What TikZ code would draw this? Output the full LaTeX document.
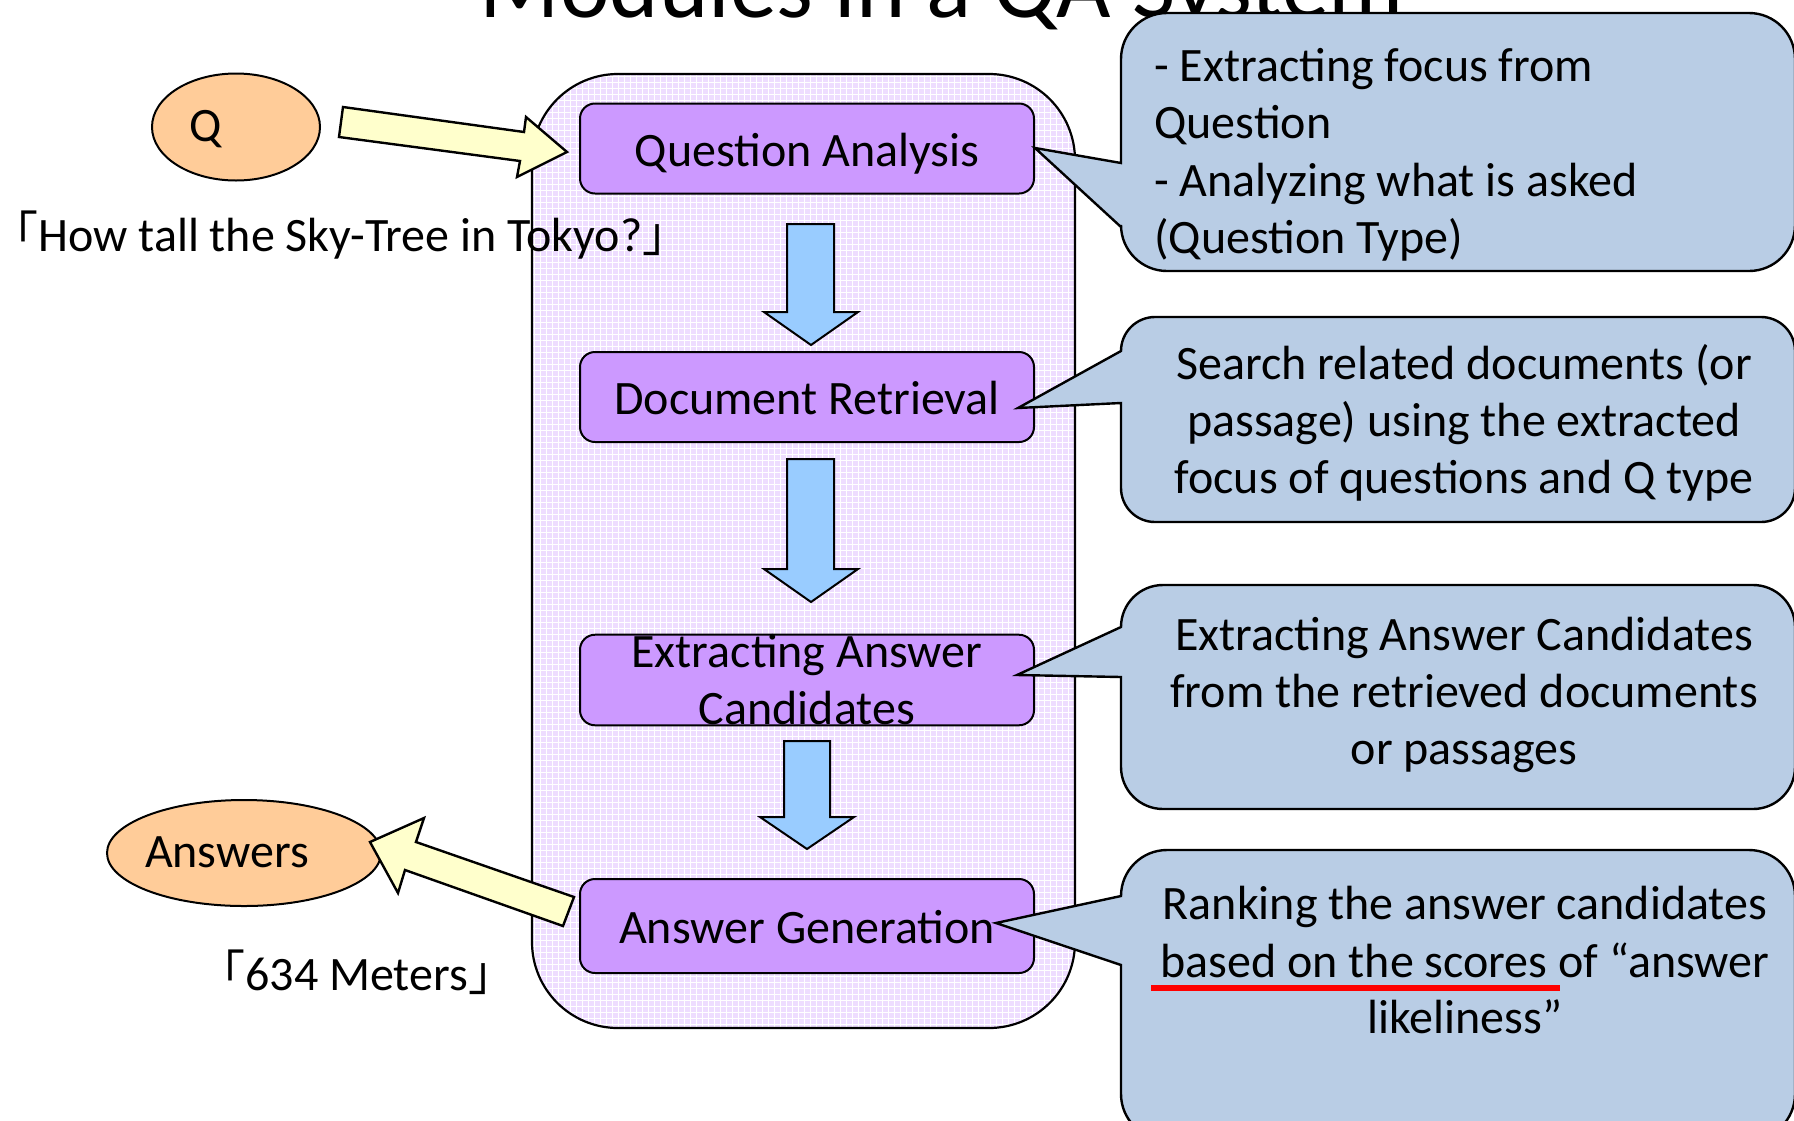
\documentclass[tikz,border=0pt]{standalone}
\usepackage{fontspec}
\setmainfont{Carlito}
\newfontfamily\cjkfont{Noto Sans CJK JP}
\usetikzlibrary{patterns,shapes.geometric}
\definecolor{boxviolet}{HTML}{CC99FF}
\definecolor{contlav}{HTML}{EEDDFF}
\definecolor{callblue}{HTML}{B9CDE5}
\definecolor{arrblue}{HTML}{99CCFF}
\definecolor{arryellow}{HTML}{FFFFCC}
\definecolor{ellorange}{HTML}{FFCC99}
\newcommand{\bodyfont}{\fontsize{24}{28.5}\selectfont}
\newcommand{\lbr}{{\cjkfont 「}}
\newcommand{\rbr}{{\cjkfont 」}}
\tikzset{
  module/.style={draw, line width=1pt, fill=boxviolet, rounded corners=7.5pt,
    minimum width=227pt, inner sep=0pt, font=\bodyfont, align=center},
  onelinemodule/.style={module, text height=17.5pt, text depth=0pt},
  ellnode/.style={draw, ellipse, fill=ellorange, line width=1pt, inner sep=0pt},
  txt/.style={font=\bodyfont, inner sep=0pt},
  blockarrow/.style={draw, line width=1pt, fill=arrblue, line join=miter},
  yarrow/.style={draw, line width=1.2pt, fill=arryellow, line join=miter},
  callout/.style={draw, line width=1.2pt, fill=callblue, line join=miter},
  container/.style={draw, line width=1.1pt, preaction={fill=contlav}, pattern=grid, pattern color=white},
}
\begin{document}
\begin{tikzpicture}[x=0.5pt,y=-0.5pt]
\clip (0,0) rectangle (1794,1120);
\fill[white] (0,0) rectangle (1794,1120);

% title
\node[inner sep=0pt, anchor=base, font=\fontsize{47}{56}\selectfont] (title) at (942,17) {Modules in a QA System};

% container
\draw[container, rounded corners=43pt] (532,74) rectangle (1075,1028);

% modules
\node[onelinemodule, minimum height=45pt] (qa) at (807,148.5) {Question Analysis};
\node[onelinemodule, minimum height=45pt] (dr) at (807,397) {Document Retrieval};
\node[module, minimum height=45pt] (eac) at (807,680) {Extracting Answer\\Candidates};
\node[onelinemodule, minimum height=47pt] (ag) at (807,926) {Answer Generation};

% blue block arrows
\draw[blockarrow] (787,224) -- (834,224) -- (834,312) -- (858,312) -- (811,345) -- (764,312) -- (787,312) -- cycle;
\draw[blockarrow] (787,459) -- (834,459) -- (834,569) -- (858,569) -- (811,602) -- (764,569) -- (787,569) -- cycle;
\draw[blockarrow] (784,741) -- (830,741) -- (830,817) -- (854,817) -- (807,849) -- (760,817) -- (784,817) -- cycle;

% ellipses
\node[ellnode, minimum width=84pt, minimum height=53.5pt] (qell) at (236,127) {};
\node[txt, anchor=base] (qlabel) at (206,141.5) {Q};
\node[ellnode, minimum width=137pt, minimum height=53pt] (aell) at (244,853) {};
\node[txt, anchor=base] (alabel) at (227,867) {Answers};

% yellow arrows
\draw[yarrow] (343,107) -- (524,132) -- (526,117) -- (567,152) -- (517,177) -- (520,161) -- (339,137) -- cycle;
\draw[yarrow] (574,897) -- (416,842) -- (424,818) -- (370,842) -- (398,893) -- (405,870) -- (563,926) -- cycle;

% side texts
\node[txt, anchor=base west] (qtext) at (0,251) {\kern-5pt\lbr How tall the Sky-Tree in Tokyo?\rbr};
\node[txt, anchor=base west] (atext) at (197,990) {\lbr 634 Meters\rbr};

% callouts
\draw[callout] (1121,163) [rounded corners=23pt] -- (1121,13) -- (1795,13) -- (1795,271) -- (1121,271) [sharp corners] -- (1121,227) -- (1035,148) -- cycle;
\draw[callout] (1121,351) [rounded corners=17pt] -- (1121,317) -- (1795,317) -- (1795,522) -- (1121,522) [sharp corners] -- (1121,403) -- (1018,408) -- cycle;
\draw[callout] (1121,627) [rounded corners=21pt] -- (1121,585) -- (1795,585) -- (1795,809) -- (1121,809) [sharp corners] -- (1121,677) -- (1017,675) -- cycle;
\draw[callout] (1121,896) [rounded corners=23pt] -- (1121,850) -- (1795,850) -- (1795,1140) -- (1121,1140) [sharp corners] -- (1121,965) -- (996,923) -- cycle;

% callout texts
\node[txt, anchor=base west] (c1a) at (1154,81) {- Extracting focus from};
\node[txt, anchor=base west] (c1b) at (1154,138.5) {Question};
\node[txt, anchor=base west] (c1c) at (1154,196) {- Analyzing what is asked};
\node[txt, anchor=base west] (c1d) at (1154,253.5) {(Question Type)};

\node[txt, anchor=base] (c2a) at (1464,379.5) {Search related documents (or};
\node[txt, anchor=base] (c2b) at (1464,436.5) {passage) using the extracted};
\node[txt, anchor=base] (c2c) at (1464,493.5) {focus of questions and Q type};

\node[txt, anchor=base] (c3a) at (1464,650.5) {Extracting Answer Candidates};
\node[txt, anchor=base] (c3b) at (1464,707.5) {from the retrieved documents};
\node[txt, anchor=base] (c3c) at (1464,764.5) {or passages};

\node[txt, anchor=base] (c4a) at (1465,919.5) {Ranking the answer candidates};
\node[txt, anchor=base] (c4b) at (1465,977) {based on the scores of “answer};
\node[txt, anchor=base] (c4c) at (1465,1033) {likeliness”};

\draw[red, line width=3pt] (1151,988) -- (1560,988);
\end{tikzpicture}
\end{document}
